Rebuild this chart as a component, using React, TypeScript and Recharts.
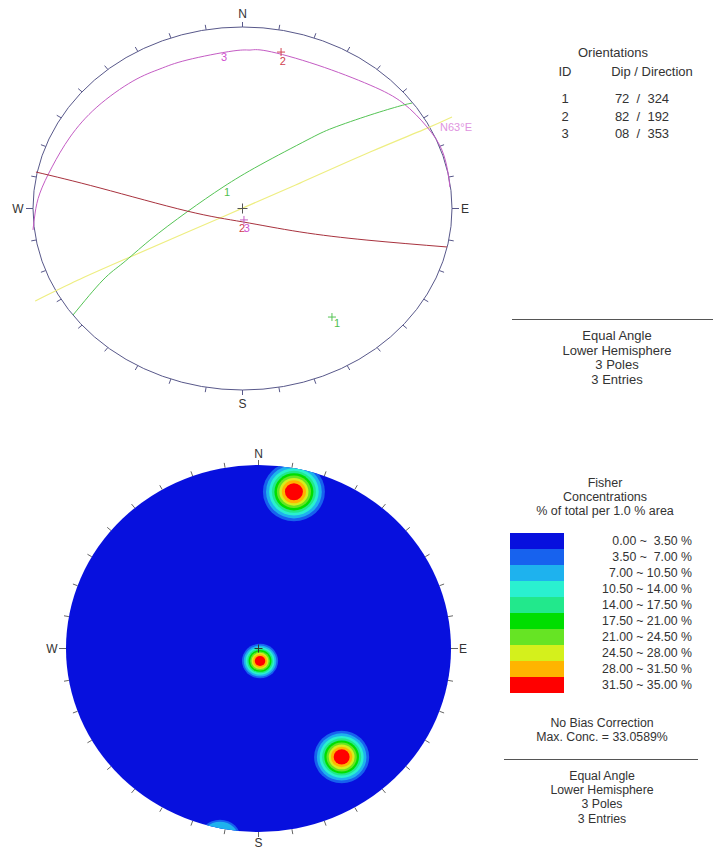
import React from "react";
import { ScatterChart, Scatter, XAxis, YAxis } from "recharts";

// ---- data (stereonet units, centre = 0,0, rim = ±1) ----

const ORIENT_IDS = ["1", "2", "3"];
const ORIENT_VALUES = ["72  /  324", "82  /  192", "08  /  353"];

const PLANE_1 = [
  { x: -0.809, y: -0.587 }, { x: -0.666, y: -0.394 }, { x: -0.57, y: -0.3 },
  { x: -0.442, y: -0.174 }, { x: -0.265, y: -0.019 }, { x: -0.093, y: 0.118 },
  { x: 0.084, y: 0.24 }, { x: 0.308, y: 0.377 }, { x: 0.432, y: 0.444 },
  { x: 0.609, y: 0.515 }, { x: 0.752, y: 0.565 }, { x: 0.809, y: 0.581 },
];

const PLANE_2 = [
  { x: -0.986, y: 0.201 }, { x: -0.68, y: 0.113 }, { x: -0.265, y: -0.014 },
  { x: 0.002, y: -0.074 }, { x: 0.274, y: -0.129 }, { x: 0.594, y: -0.174 },
  { x: 0.976, y: -0.212 },
];

const PLANE_3 = [
  { x: -1.0, y: -0.118 }, { x: -0.99, y: -0.025 }, { x: -0.967, y: 0.085 },
  { x: -0.909, y: 0.229 }, { x: -0.823, y: 0.394 }, { x: -0.695, y: 0.559 },
  { x: -0.523, y: 0.702 }, { x: -0.394, y: 0.769 }, { x: -0.265, y: 0.818 },
  { x: -0.045, y: 0.868 }, { x: 0.036, y: 0.873 }, { x: 0.117, y: 0.868 },
  { x: 0.356, y: 0.791 }, { x: 0.609, y: 0.68 }, { x: 0.766, y: 0.581 },
  { x: 0.881, y: 0.449 }, { x: 0.952, y: 0.322 }, { x: 0.981, y: 0.196 },
  { x: 0.99, y: 0.118 },
];

const STRIKE_N63E = [
  { x: -0.99, y: -0.51 }, { x: -0.79, y: -0.397 }, { x: -0.57, y: -0.284 },
  { x: -0.107, y: -0.052 }, { x: 0.274, y: 0.14 }, { x: 0.609, y: 0.311 },
  { x: 0.862, y: 0.433 }, { x: 1.0, y: 0.504 },
];
const STRIKE_LABEL = [{ x: 0.943, y: 0.449, text: "N63°E" }];

const CENTRE = [{ x: 0, y: 0 }];
const GREEN_POLES = [{ x: 0.427, y: -0.598 }];
const RED_POLES = [{ x: 0.184, y: 0.862 }];
const MAGENTA_POLES = [{ x: 0.007, y: -0.063 }];

const GREEN_LABELS = [
  { x: -0.074, y: 0.091, text: "1" },
  { x: 0.451, y: -0.631, text: "1" },
];
const RED_LABELS = [
  { x: 0.193, y: 0.813, text: "2" },
  { x: -0.002, y: -0.107, text: "2" },
];
const MAGENTA_LABELS = [
  { x: -0.088, y: 0.835, text: "3" },
  { x: 0.021, y: -0.107, text: "3" },
];

// contour clusters: spread = outer contour radius, peak = highest band reached (1..10)
const CLUSTERS = [
  { x: 0.184, y: 0.854, spread: 0.161, peak: 10 },
  { x: 0.008, y: -0.068, spread: 0.094, peak: 10 },
  { x: 0.432, y: -0.591, spread: 0.143, peak: 10 },
  { x: -0.2, y: -1.043, spread: 0.11, peak: 3 },
];

const BAND_LABELS = [
  "0.00 ~  3.50 %", "3.50 ~  7.00 %", "7.00 ~ 10.50 %", "10.50 ~ 14.00 %",
  "14.00 ~ 17.50 %", "17.50 ~ 21.00 %", "21.00 ~ 24.50 %", "24.50 ~ 28.00 %",
  "28.00 ~ 31.50 %", "31.50 ~ 35.00 %",
];
const BAND_COLORS = [
  "#0710DE", "#1762EE", "#1EB2EE", "#2AF0D0", "#22E88C",
  "#00DE00", "#66E424", "#D4F01C", "#FFB400", "#FF0000",
];
const RING_FRAC = [1, 0.9, 0.8, 0.71, 0.63, 0.55, 0.47, 0.39, 0.29];

// ---- layout ----

const W = 713;
const D = 1.1;
const FONT = "'Liberation Sans', Arial, sans-serif";

type Net = {
  cx: number; cy: number; rx: number; ry: number; top: number; height: number;
  gap: { n: number; s: number; w: number; e: number };
};

const TOP_NET: Net = {
  cx: 242.5, cy: 208.5, rx: 209.5, ry: 181.5, top: 0, height: 420,
  gap: { n: 13, s: 14, w: 15, e: 13 },
};
const BOTTOM_NET: Net = {
  cx: 258.5, cy: 648.5, rx: 192.5, ry: 183.5, top: 430, height: 425,
  gap: { n: 11, s: 11, w: 14, e: 12 },
};

const netMargin = (n: Net) => ({
  left: n.cx - D * n.rx,
  right: W - (n.cx + D * n.rx),
  top: n.cy - n.top - D * n.ry,
  bottom: n.top + n.height - (n.cy + D * n.ry),
});

const TICKS = Array.from({ length: 36 }, (_, i) => i * 10);

function NetFrame(props: any) {
  const { cx, cy, net, stroke, fill, tickColor, clipId } = props;
  const { rx, ry, gap } = net as Net;
  return (
    <g>
      {clipId && (
        <defs>
          <clipPath id={clipId}>
            <ellipse cx={cx} cy={cy} rx={rx} ry={ry} />
          </clipPath>
        </defs>
      )}
      <ellipse cx={cx} cy={cy} rx={rx} ry={ry} fill={fill || "none"} stroke={stroke || "none"} />
      {TICKS.map((a) => {
        const r = (a * Math.PI) / 180;
        const s = Math.sin(r);
        const c = Math.cos(r);
        const len = a === 90 || a === 270 ? 7 : 5;
        return (
          <line
            key={a}
            x1={cx + rx * s}
            y1={cy - ry * c}
            x2={cx + (rx + len) * s}
            y2={cy - (ry + len) * c}
            stroke={tickColor}
            strokeWidth={1}
          />
        );
      })}
      <g fill="#333" fontSize={12} fontFamily={FONT} textAnchor="middle" dominantBaseline="central">
        <text x={cx} y={cy - ry - gap.n}>N</text>
        <text x={cx} y={cy + ry + gap.s}>S</text>
        <text x={cx + rx + gap.e} y={cy}>E</text>
        <text x={cx - rx - gap.w} y={cy}>W</text>
      </g>
    </g>
  );
}

const cross = (color: string, size: number) => (p: any) => (
  <path
    d={`M${p.cx - size},${p.cy}h${2 * size}M${p.cx},${p.cy - size}v${2 * size}`}
    stroke={color}
    strokeWidth={1}
    fill="none"
  />
);

const label = (color: string, anchor: "middle" | "start" = "middle") => (p: any) => (
  <text
    x={p.cx}
    y={p.cy}
    fill={color}
    fontSize={11}
    fontFamily={FONT}
    textAnchor={anchor}
    dominantBaseline="central"
  >
    {p.payload.text}
  </text>
);

const noDot = () => <g />;

function Cluster(p: any) {
  const { cx, cy, payload } = p;
  const bands = BAND_COLORS.slice(1, payload.peak);
  return (
    <g clipPath="url(#discClip)">
      {bands.map((col, i) => (
        <ellipse
          key={i}
          cx={cx}
          cy={cy}
          rx={payload.spread * BOTTOM_NET.rx * RING_FRAC[i]}
          ry={payload.spread * BOTTOM_NET.ry * RING_FRAC[i]}
          fill={col}
        />
      ))}
    </g>
  );
}

function Txt({ x, y, children, size = 13, align = "center" }: any) {
  const tx = align === "center" ? "-50%" : align === "right" ? "-100%" : "0";
  return (
    <div
      style={{
        position: "absolute",
        left: x,
        top: y,
        transform: `translate(${tx},-50%)`,
        fontSize: size,
        lineHeight: 1,
        whiteSpace: "pre",
        color: "#333",
      }}
    >
      {children}
    </div>
  );
}

const GREEN = "#55C455";
const RED = "#A8323E";
const MAGENTA = "#C45CC4";
const YELLOW = "#EEEE82";

export default function App() {
  return (
    <div
      style={{
        position: "absolute",
        left: 0,
        top: 0,
        width: W,
        height: 849,
        background: "#fff",
        fontFamily: FONT,
        overflow: "hidden",
      }}
    >
      <div style={{ position: "absolute", left: 0, top: TOP_NET.top }}>
        <ScatterChart width={W} height={TOP_NET.height} margin={netMargin(TOP_NET)}>
          <XAxis type="number" dataKey="x" domain={[-D, D]} hide />
          <YAxis type="number" dataKey="y" domain={[-D, D]} hide />
          <Scatter
            data={CENTRE}
            isAnimationActive={false}
            shape={(p: any) => <NetFrame {...p} net={TOP_NET} stroke="#58588A" tickColor="#58588A" />}
          />
          <Scatter data={STRIKE_N63E} isAnimationActive={false} line={{ stroke: YELLOW, strokeWidth: 1.2 }} lineJointType="natural" shape={noDot} />
          <Scatter data={PLANE_3} isAnimationActive={false} line={{ stroke: MAGENTA, strokeWidth: 1 }} lineJointType="natural" shape={noDot} />
          <Scatter data={PLANE_1} isAnimationActive={false} line={{ stroke: GREEN, strokeWidth: 1 }} lineJointType="natural" shape={noDot} />
          <Scatter data={PLANE_2} isAnimationActive={false} line={{ stroke: RED, strokeWidth: 1 }} lineJointType="natural" shape={noDot} />
          <Scatter data={CENTRE} isAnimationActive={false} shape={cross("#555", 5)} />
          <Scatter data={GREEN_POLES} isAnimationActive={false} shape={cross(GREEN, 4)} />
          <Scatter data={RED_POLES} isAnimationActive={false} shape={cross("#D04050", 4)} />
          <Scatter data={MAGENTA_POLES} isAnimationActive={false} shape={cross(MAGENTA, 4)} />
          <Scatter data={GREEN_LABELS} isAnimationActive={false} shape={label("#50C050")} />
          <Scatter data={RED_LABELS} isAnimationActive={false} shape={label("#D04050")} />
          <Scatter data={MAGENTA_LABELS} isAnimationActive={false} shape={label("#D050D0")} />
          <Scatter data={STRIKE_LABEL} isAnimationActive={false} shape={label("#E094E0", "start")} />
        </ScatterChart>
      </div>

      <div style={{ position: "absolute", left: 0, top: BOTTOM_NET.top }}>
        <ScatterChart width={W} height={BOTTOM_NET.height} margin={netMargin(BOTTOM_NET)}>
          <XAxis type="number" dataKey="x" domain={[-D, D]} hide />
          <YAxis type="number" dataKey="y" domain={[-D, D]} hide />
          <Scatter
            data={CENTRE}
            isAnimationActive={false}
            shape={(p: any) => (
              <NetFrame {...p} net={BOTTOM_NET} fill={BAND_COLORS[0]} tickColor="#666" clipId="discClip" />
            )}
          />
          <Scatter data={CLUSTERS} isAnimationActive={false} shape={Cluster} />
          <Scatter data={CENTRE} isAnimationActive={false} shape={cross("#333", 4)} />
        </ScatterChart>
      </div>

      {/* orientations table */}
      <Txt x={613} y={52}>Orientations</Txt>
      <Txt x={565} y={71}>ID</Txt>
      <Txt x={652} y={71}>Dip / Direction</Txt>
      {ORIENT_IDS.map((id, i) => (
        <React.Fragment key={id}>
          <Txt x={565} y={98 + i * 17.5}>{id}</Txt>
          <Txt x={642} y={98 + i * 17.5}>{ORIENT_VALUES[i]}</Txt>
        </React.Fragment>
      ))}
      <div style={{ position: "absolute", left: 512, top: 319, width: 201, height: 1, background: "#555" }} />
      <Txt x={617} y={335}>Equal Angle</Txt>
      <Txt x={617} y={349.5}>Lower Hemisphere</Txt>
      <Txt x={617} y={364}>3 Poles</Txt>
      <Txt x={617} y={378.5}>3 Entries</Txt>

      {/* contour legend */}
      <Txt x={605} y={483} size={12.5}>Fisher</Txt>
      <Txt x={605} y={497} size={12.5}>Concentrations</Txt>
      <Txt x={605} y={511} size={12.5}>% of total per 1.0 % area</Txt>
      {BAND_COLORS.map((c, i) => (
        <div
          key={c}
          style={{ position: "absolute", left: 510, top: 533 + i * 16, width: 54, height: 16, background: c }}
        />
      ))}
      {BAND_LABELS.map((t, i) => (
        <Txt key={t} x={692} y={541 + i * 16} size={12.3} align="right">
          {t}
        </Txt>
      ))}
      <Txt x={602} y={723} size={12.3}>No Bias Correction</Txt>
      <Txt x={602} y={737} size={12.3}>Max. Conc. = 33.0589%</Txt>
      <div style={{ position: "absolute", left: 504, top: 759, width: 194, height: 1, background: "#555" }} />
      <Txt x={602} y={776} size={12.3}>Equal Angle</Txt>
      <Txt x={602} y={790} size={12.3}>Lower Hemisphere</Txt>
      <Txt x={602} y={804} size={12.3}>3 Poles</Txt>
      <Txt x={602} y={819} size={12.3}>3 Entries</Txt>
    </div>
  );
}
